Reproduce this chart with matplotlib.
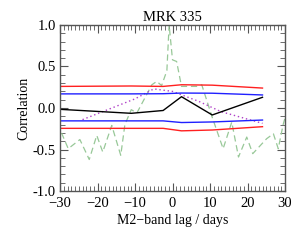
import matplotlib
matplotlib.use("Agg")
import matplotlib.pyplot as plt
from matplotlib.ticker import MultipleLocator, FormatStrFormatter

plt.rcParams['font.family'] = ['Liberation Serif', 'DejaVu Serif']

# significance levels / CCF sampled at these lags
lag_ccf = [-30, -11, -2.5, 2.4, 10.6, 24]
ccf = [-0.016, -0.064, -0.03, 0.136, -0.084, 0.129]
red_hi = [0.26, 0.265, 0.26, 0.28, 0.275, 0.24]
red_lo = [-0.245, -0.245, -0.245, -0.275, -0.265, -0.225]
blue_hi = [0.17, 0.17, 0.172, 0.18, 0.178, 0.157]
blue_lo = [-0.155, -0.155, -0.155, -0.175, -0.168, -0.145]

# dotted (purple) curve
lag_acf = [-24, -10, -5, 0, 7, 13, 24]
acf = [-0.14, 0.11, 0.23, 0.2, 0.08, -0.045, -0.185]

# dashed (green) curve
lag_dcf = [-29.6, -27.8, -24.7, -22.2, -20.2, -18.6, -16.2, -13.8, -12.7, -11.0,
           -9.5, -5.5, -4.2, -2.9, -1.5, -0.9, 0.0, 1.1, 2.4, 6.5, 7.8, 10.5,
           13.5, 15.8, 17.6, 19.8, 21.4, 25.1, 26.9, 28.2, 29.5, 30.0]
dcf = [-0.30, -0.49, -0.38, -0.62, -0.33, -0.53, -0.21, -0.57, -0.20, -0.02,
       -0.06, 0.28, 0.32, 0.27, 0.45, 1.0, 0.58, 0.56, 0.26, 0.26, 0.28, -0.10,
       -0.49, -0.17, -0.59, -0.35, -0.55, -0.37, -0.31, -0.49, -0.20, -0.12]

fig = plt.figure(figsize=(3.0, 2.4), dpi=100)
ax = fig.add_axes([0.2, 0.204, 0.75, 0.692])

ax.plot(lag_dcf, dcf, color='#98c898', lw=0.9, ls=(0, (5, 3)))
ax.plot(lag_acf, acf, color='#b040c8', lw=1.0, ls=(0, (1, 2)))
ax.plot(lag_ccf, red_hi, color='#ff2020', lw=1.0)
ax.plot(lag_ccf, red_lo, color='#ff2020', lw=1.0)
ax.plot(lag_ccf, blue_hi, color='#2020ff', lw=1.0)
ax.plot(lag_ccf, blue_lo, color='#2020ff', lw=1.0)
ax.plot(lag_ccf, ccf, color='black', lw=1.0)

ax.set_xlim(-30, 30)
ax.set_ylim(-1.0, 1.0)
ax.xaxis.set_major_locator(MultipleLocator(10))
ax.xaxis.set_minor_locator(MultipleLocator(1))
ax.yaxis.set_major_locator(MultipleLocator(0.5))
ax.yaxis.set_minor_locator(MultipleLocator(0.1))
ax.yaxis.set_major_formatter(FormatStrFormatter('%.1f'))
ax.tick_params(which='both', direction='in', top=True, right=True,
               color='#555555', labelsize=10.5)
ax.tick_params(axis='x', pad=4)
ax.tick_params(axis='y', pad=3)
ax.tick_params(which='major', length=6, width=0.8)
ax.tick_params(which='minor', length=3.5, width=0.6)
for s in ax.spines.values():
    s.set_color('#555555')
    s.set_linewidth(1.0)

ax.set_title('MRK 335', fontsize=10.5, pad=3)
ax.set_xlabel('M2\u2212band lag / days', fontsize=10, labelpad=3)
ax.set_ylabel('Correlation', fontsize=10, labelpad=2)

fig.savefig('out.png', dpi=100)
